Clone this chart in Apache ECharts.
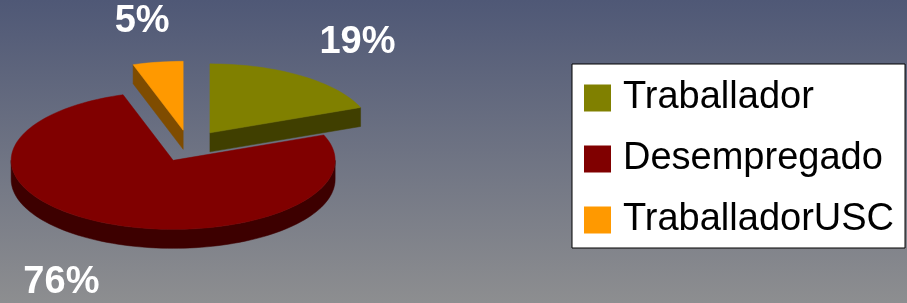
<!DOCTYPE html>
<html>
<head>
<meta charset="utf-8">
<script src="https://cdn.jsdelivr.net/npm/echarts@6/dist/echarts.min.js"></script>
<style>
  html, body { margin: 0; padding: 0; }
  #chart { width: 907px; height: 303px; }
</style>
</head>
<body>
<div id="chart"></div>
<script>
const categories = ['Traballador', 'Desempregado', 'TraballadorUSC'];
const values = [19, 76, 5];
const colors = ['#808000', '#800000', '#ff9900'];
const sideColors = ['#403f00', '#3d0000', '#7f4c00'];

const total = values.reduce((a, b) => a + b, 0);
const starts = [];
let acc = 0;
values.forEach(v => { starts.push(acc / total * 360); acc += v; });

// pie geometry (tilted 3d look)
const pie = { cx: 189, cy: 146, rx: 162, ry: 69, depth: 19, explode: 0.23, labelDist: 1.85 };

function pt(th, ox, oy, dz) {
  const r = th * Math.PI / 180;
  return [pie.cx + ox + pie.rx * Math.sin(r), pie.cy + oy - pie.ry * Math.cos(r) + dz];
}
function arc(a, b, ox, oy, dz) {
  const pts = [];
  const n = Math.max(2, Math.ceil(Math.abs(b - a) / 2));
  for (let k = 0; k <= n; k++) pts.push(pt(a + (b - a) * k / n, ox, oy, dz));
  return pts;
}

function renderSlice(i) {
  const s = starts[i];
  const e = s + values[i] / total * 360;
  const m = (s + e) / 2;
  const mr = m * Math.PI / 180;
  const ox = pie.explode * pie.rx * Math.sin(mr);
  const oy = -pie.explode * pie.ry * Math.cos(mr);
  const d = pie.depth;
  const children = [];
  const sideStyle = { fill: sideColors[i], stroke: sideColors[i], lineWidth: 0.5 };

  // outer side, only the front half is visible
  [[90, 270], [450, 630]].forEach(([fa, fb]) => {
    const a = Math.max(s, fa), b = Math.min(e, fb);
    if (b > a) {
      const top = arc(a, b, ox, oy, 0);
      const bot = arc(b, a, ox, oy, d);
      children.push({ type: 'polygon', shape: { points: top.concat(bot) }, style: sideStyle });
    }
  });
  // cut faces
  const apex = [pie.cx + ox, pie.cy + oy];
  const face = th => {
    const o = pt(th, ox, oy, 0);
    return { type: 'polygon', shape: { points: [apex, o, [o[0], o[1] + d], [apex[0], apex[1] + d]] }, style: sideStyle };
  };
  if (Math.sin(s * Math.PI / 180) < -1e-6) children.push(face(s));
  if (Math.sin(e * Math.PI / 180) > 1e-6) children.push(face(e));

  // top face
  children.push({
    type: 'polygon',
    shape: { points: [apex].concat(arc(s, e, ox, oy, 0)) },
    style: { fill: colors[i], stroke: colors[i], lineWidth: 0.5 }
  });

  // percent label
  const lx = pie.cx + pie.labelDist * pie.rx * Math.sin(mr);
  const ly = pie.cy - pie.labelDist * pie.ry * Math.cos(mr) + (Math.cos(mr) < 0 ? d : 0);
  children.push({
    type: 'text',
    style: {
      x: lx, y: ly + 2,
      text: Math.round(values[i] / total * 100) + '%',
      fill: '#ffffff',
      font: 'bold 38px "Liberation Sans", Arial, sans-serif',
      align: 'center',
      verticalAlign: 'middle'
    }
  });
  return { type: 'group', children: children };
}

const chart = echarts.init(document.getElementById('chart'));
const series = categories.map((name, i) => {
  const m = (starts[i] + values[i] / total * 180) * Math.PI / 180;
  return {
    type: 'custom',
    name: name,
    coordinateSystem: 'none',
    z: Math.cos(m) < 0 ? 3 : 2,
    silent: true,
    itemStyle: { color: colors[i] },
    data: [values[i]],
    renderItem: () => renderSlice(i)
  };
});

chart.setOption({
  animation: false,
  backgroundColor: new echarts.graphic.LinearGradient(0, 0, 0, 1, [
    { offset: 0, color: '#4f5876' },
    { offset: 1, color: '#8d8e90' }
  ]),
  legend: {
    orient: 'vertical',
    left: 572,
    top: 64,
    padding: [15, 11, 9, 12],
    backgroundColor: '#ffffff',
    borderColor: '#000000',
    borderWidth: 1,
    borderRadius: 0,
    icon: 'rect',
    itemWidth: 27,
    itemHeight: 27,
    itemGap: 23,
    selectedMode: false,
    data: categories,
    textStyle: {
      color: '#000000',
      fontSize: 38,
      padding: [0, 0, 0, 7],
      fontFamily: '"Liberation Sans", Arial, sans-serif'
    }
  },
  series: series
});
</script>
</body>
</html>
